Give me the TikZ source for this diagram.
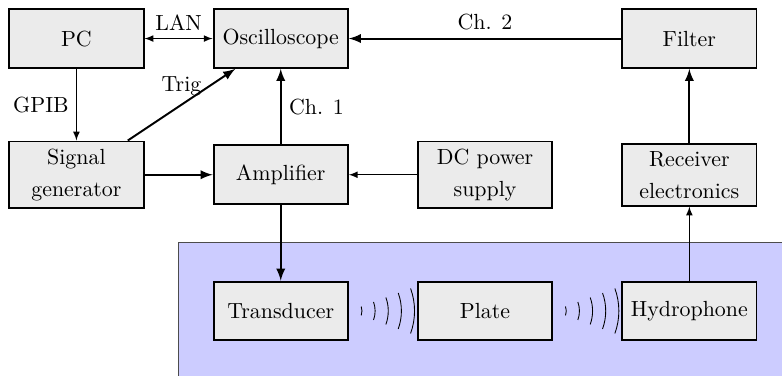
\documentclass[tikz,border=0pt]{standalone}
\usepackage{amsmath,amssymb}
\usepackage{xcolor}
\usepackage{tikz}
\usetikzlibrary{positioning,fit,backgrounds,decorations.pathreplacing}

\begin{document}
\begin{tikzpicture}[
  node distance=62.2pt and 93.3pt, on grid,
  box/.style={draw, line width=0.9pt, fill=black!8, minimum width=61.3pt, minimum height=26.8pt, align=center},
  sig/.style={line width=0.9pt, -latex},
  ctl/.style={-latex},
  wave/.style={decorate, decoration={expanding waves, angle=20, segment length=6pt}}]
  \useasboundingbox (-34.9pt,17.6pt) rectangle (322.2pt,-154.1pt);
  \node[box] (pc) {PC};
  \node[box, right=of pc] (osc) {Oscilloscope};
  \node[box, below=of pc] (gen) {Signal\\[2.6pt] generator};
  \node[box, right=of gen] (amp) {Amplifier};
  \node[box, right=of amp] (dc) {DC power\\[2.6pt] supply};
  \node[box, right=of dc] (rx) {Receiver\\[2.6pt] electronics};
  \node[box, above=of rx] (filt) {Filter};
  \node[box, below=of amp] (trans) {Transducer};
  \node[box, right=of trans] (plate) {Plate};
  \node[box, right=of plate] (hyd) {Hydrophone};
  % connections
  \draw[latex-latex] (pc) -- node[above] {LAN} (osc);
  \draw[ctl] (pc) -- node[left] {GPIB} (gen);
  \draw[sig] (gen) -- node[above] {Trig} (osc);
  \draw[sig] (gen) -- (amp);
  \draw[sig] (amp) -- node[right] {Ch. 1} (osc);
  \draw[ctl] (dc) -- (amp);
  \draw[sig] (filt) -- node[above] {Ch. 2} (osc);
  \draw[sig] (rx) -- (filt);
  \draw[ctl] (hyd) -- (rx);
  \draw[sig] (amp) -- (trans);
  % sound through the water tank
  \draw[wave] (trans.east) -- (plate.west);
  \draw[wave] (plate.east) -- (hyd.west);
  \begin{scope}[on background layer]
    \node[draw=black!70, fill=blue!20, fit=(trans)(plate)(hyd), inner xsep=15.5pt, inner ysep=17.4pt] (tank) {};
  \end{scope}
\end{tikzpicture}
\end{document}
